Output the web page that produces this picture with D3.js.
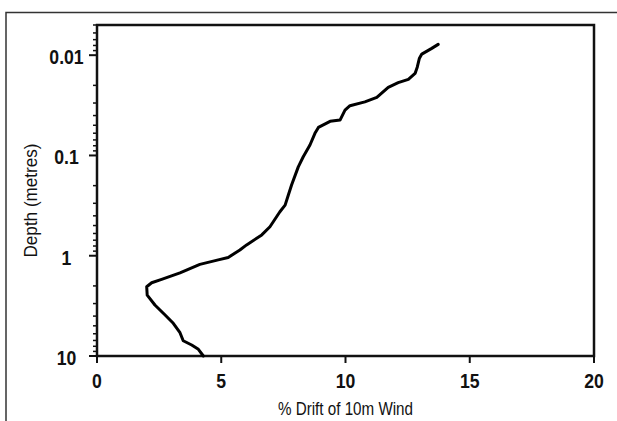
<!DOCTYPE html>
<html>
<head>
<meta charset="utf-8">
<script src="https://cdn.jsdelivr.net/npm/d3@7"></script>
<style>
  body { margin: 0; background: #fff; }
  svg { display: block; }
  .tick-label { font-family: "Liberation Sans Narrow", "Arial Narrow", "Liberation Sans", Arial, sans-serif; font-weight: bold; font-size: 21px; fill: #111; }
  .axis-title { font-family: "Liberation Sans Narrow", "Arial Narrow", "Liberation Sans", Arial, sans-serif; font-size: 19px; fill: #111; }
</style>
</head>
<body>
<svg id="chart" width="617" height="421"></svg>
<script>
// Data: % drift of 10 m wind vs depth (metres)
const drift = [4.28, 4.08, 3.81, 3.47, 3.34, 3.07, 2.74, 2.33, 2.02, 2.00, 2.20, 2.60, 3.34, 4.14, 4.88, 5.28, 5.75, 6.02, 6.63, 6.96, 7.36, 7.57, 7.70, 7.83, 8.10, 8.30, 8.57, 8.77, 8.91, 9.38, 9.78, 9.98, 10.18, 10.78, 11.26, 11.72, 12.12, 12.53, 12.80, 12.89, 12.97, 13.07, 13.47, 13.73];
const depth = [10, 8.58, 7.77, 7.04, 5.86, 4.72, 3.90, 3.10, 2.47, 2.04, 1.86, 1.72, 1.48, 1.22, 1.10, 1.04, 0.877, 0.78, 0.62, 0.514, 0.364, 0.313, 0.248, 0.197, 0.130, 0.103, 0.0787, 0.0602, 0.0525, 0.0457, 0.0444, 0.0353, 0.0319, 0.0292, 0.0264, 0.0209, 0.0188, 0.0174, 0.0152, 0.0131, 0.0108, 0.00975, 0.00855, 0.0078];
const xTicks = [0, 5, 10, 15, 20];
const yTicks = [0.01, 0.1, 1, 10];
const yTickLabels = ["0.01", "0.1", "1", "10"];
const xTitle = "% Drift of 10m Wind";
const yTitle = "Depth (metres)";

const svg = d3.select("#chart");
const mLeft = 97, mRight = 594, mTop = 25, mBottom = 356;
const sx = 0.84; // horizontal squeeze to mimic a condensed face

const x = d3.scaleLinear().domain([0, 20]).range([mLeft, mRight]);
const y = d3.scaleLog().domain([0.005, 10]).range([mTop, mBottom]);

// outer frame (top and left)
svg.append("path")
  .attr("d", `M6,421 L6,12.5 L617,12.5`)
  .attr("fill", "none").attr("stroke", "#333").attr("stroke-width", 1.5);

// minor y ticks
const minor = [];
for (let e = -3; e <= 0; e++) {
  for (let m = 2; m <= 9; m++) {
    const v = m * Math.pow(10, e);
    if (v >= 0.005 && v < 10) minor.push(v);
  }
}
svg.append("g").selectAll("line").data(minor).join("line")
  .attr("x1", mLeft - 4).attr("x2", mLeft)
  .attr("y1", d => y(d)).attr("y2", d => y(d))
  .attr("stroke", "#111").attr("stroke-width", 1.5);

// major y ticks
svg.append("g").selectAll("line").data(yTicks).join("line")
  .attr("x1", mLeft - 8).attr("x2", mLeft)
  .attr("y1", d => y(d)).attr("y2", d => y(d))
  .attr("stroke", "#111").attr("stroke-width", 2);

svg.append("g").selectAll("text").data(yTicks).join("text")
  .attr("class", "tick-label")
  .attr("transform", d => `translate(66.5,${y(d) + 9}) scale(${sx},1)`)
  .attr("text-anchor", "middle")
  .text((d, i) => yTickLabels[i]);

// x ticks
svg.append("g").selectAll("line").data(xTicks).join("line")
  .attr("x1", d => x(d)).attr("x2", d => x(d))
  .attr("y1", mBottom).attr("y2", mBottom + 7)
  .attr("stroke", "#111").attr("stroke-width", 2);

svg.append("g").selectAll("text").data(xTicks).join("text")
  .attr("class", "tick-label")
  .attr("transform", d => `translate(${x(d)},${mBottom + 32}) scale(${sx},1)`)
  .attr("text-anchor", "middle")
  .text(d => d);

// plot box
svg.append("rect")
  .attr("x", mLeft).attr("y", mTop)
  .attr("width", mRight - mLeft).attr("height", mBottom - mTop)
  .attr("fill", "none").attr("stroke", "#111").attr("stroke-width", 2.5);

// curve
const pts = drift.map((v, i) => [v, depth[i]]);
svg.append("path")
  .datum(pts)
  .attr("d", d3.line().x(d => x(d[0])).y(d => y(d[1])).curve(d3.curveLinear))
  .attr("fill", "none").attr("stroke", "#000").attr("stroke-width", 3)
  .attr("stroke-linejoin", "round").attr("stroke-linecap", "round");

// titles
svg.append("text").attr("class", "axis-title")
  .attr("transform", `translate(${(mLeft + mRight) / 2},415) scale(0.8,1)`)
  .attr("text-anchor", "middle").text(xTitle);

svg.append("text").attr("class", "axis-title")
  .attr("transform", `translate(37,${(mTop + mBottom) / 2 + 10}) rotate(-90) scale(0.9,1)`)
  .attr("text-anchor", "middle").text(yTitle);
</script>
</body>
</html>
